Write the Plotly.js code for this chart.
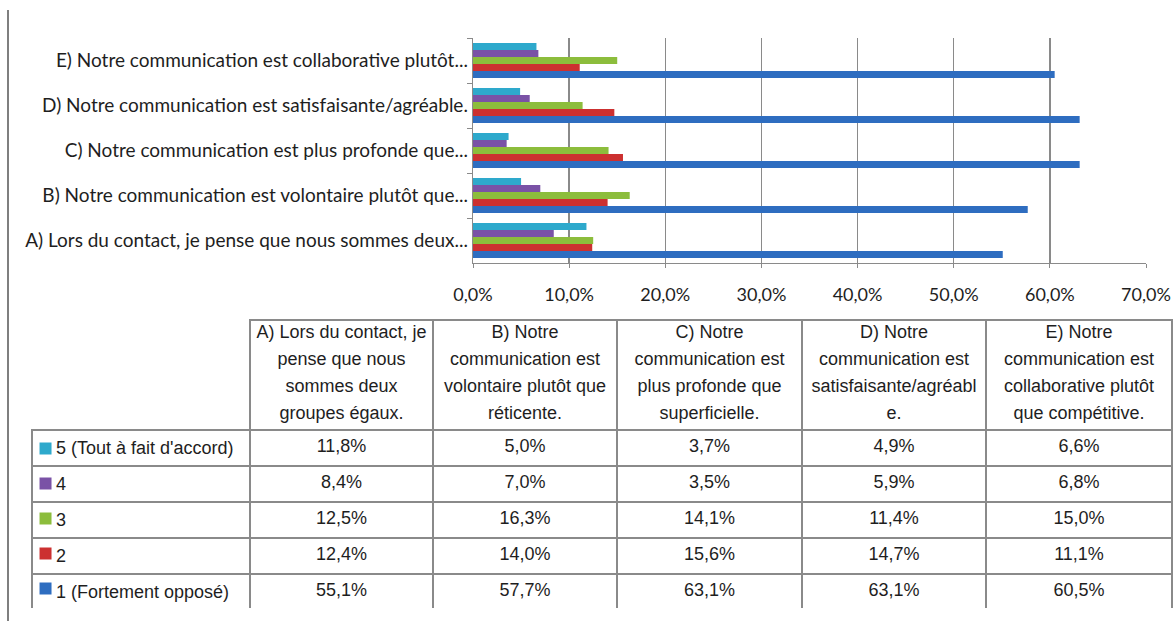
<!DOCTYPE html>
<html><head><meta charset="utf-8">
<script src="https://cdn.plot.ly/plotly-3.0.1.min.js"></script>
<style>html,body{margin:0;padding:0;background:#fff}#chart{width:1173px;height:621px}</style>
</head><body><div id="chart"></div>
<script>
// ---- data ----
const axisLabels = [
  "A) Lors du contact, je pense que nous sommes deux...",
  "B) Notre communication est volontaire plutôt que...",
  "C) Notre communication est plus profonde que...",
  "D) Notre communication est satisfaisante/agréable.",
  "E) Notre communication est collaborative plutôt..."
];
const headerLabels = [
  "A) Lors du contact, je<br>pense que nous<br>sommes deux<br>groupes égaux.",
  "B) Notre<br>communication est<br>volontaire plutôt que<br>réticente.",
  "C) Notre<br>communication est<br>plus profonde que<br>superficielle.",
  "D) Notre<br>communication est<br>satisfaisante/agréabl<br>e.",
  "E) Notre<br>communication est<br>collaborative plutôt<br>que compétitive."
];
const seriesNames = ["1 (Fortement opposé)", "2", "3", "4", "5 (Tout à fait d'accord)"];
const s1 = [55.1, 57.7, 63.1, 63.1, 60.5];
const s2 = [12.4, 14.0, 15.6, 14.7, 11.1];
const s3 = [12.5, 16.3, 14.1, 11.4, 15.0];
const s4 = [8.4, 7.0, 3.5, 5.9, 6.8];
const s5 = [11.8, 5.0, 3.7, 4.9, 6.6];
const seriesColors = ["#2e6dc0", "#cc3030", "#8cbd3c", "#7a52a6", "#2ea9cc"];

// ---- build ----
const series = [s1, s2, s3, s4, s5];
const FONT = "Lato, 'Noto Sans', sans-serif";
const TFONT = "'Liberation Sans', Arial, sans-serif";
const gray = "#8a8a8a";
const txt = "#1e1e1e";
const clear = 'rgba(0,0,0,0)';
const fmt = v => v.toFixed(1).replace('.', ',') + '%';

const traces = series.map((vals, i) => ({
  type: 'bar', orientation: 'h', name: seriesNames[i],
  y: axisLabels, x: vals,
  marker: {color: seriesColors[i]},
  hoverinfo: 'x+y+name'
}));

// table rows in order 5,4,3,2,1 (an invisible square keeps room for the legend key)
const order = [4, 3, 2, 1, 0];
const legendCol = order.map(i => '<span style="color:rgba(0,0,0,0)">■</span> ' + seriesNames[i] + '<br>');
const dataCols = axisLabels.map((_, j) => order.map(i => fmt(series[i][j])));

traces.push({
  type: 'table',
  domain: {x: [32/1173, 1172/1173], y: [0.02, 1 - 320/621]},
  columnwidth: [218, 183, 184, 185, 184, 186],
  header: {
    values: [''].concat(headerLabels),
    height: 110,
    align: 'center',
    fill: {color: clear},
    line: {color: [clear, gray, gray, gray, gray, gray], width: 1.5},
    font: {family: TFONT, size: 18, color: txt}
  },
  cells: {
    values: [legendCol].concat(dataCols),
    height: 35,
    align: ['left', 'center', 'center', 'center', 'center', 'center'],
    fill: {color: clear},
    line: {color: gray, width: 1.5},
    font: {family: TFONT, size: 18, color: txt}
  }
});

// legend keys of the data table (one square per series, on its row)
traces.push({
  type: 'scatter', mode: 'markers', xaxis: 'x2', yaxis: 'y2',
  x: seriesNames.map(() => 0.062), y: seriesNames,
  marker: {symbol: 'square', size: 12, color: seriesColors, line: {width: 0}},
  hoverinfo: 'skip', showlegend: false
});

const layout = {
  width: 1173, height: 621,
  margin: {l: 0, r: 0, t: 0, b: 0},
  paper_bgcolor: 'white', plot_bgcolor: clear,
  separators: ', ',
  showlegend: false,
  barmode: 'group', bargap: 0.22, bargroupgap: 0,
  font: {family: FONT, size: 18, color: txt},
  xaxis: {
    domain: [473/1173, 1146/1173],
    range: [0, 70], dtick: 10, tick0: 0,
    tickformat: '.1f', ticksuffix: '%',
    showgrid: true, gridcolor: gray, gridwidth: 1.3,
    showline: true, linecolor: gray, linewidth: 1.3,
    ticks: 'outside', ticklen: 4, tickcolor: gray,
    zeroline: false, ticklabelstandoff: 11,
    tickfont: {family: FONT, size: 18, color: txt},
    fixedrange: true
  },
  yaxis: {
    domain: [1 - 263/621, 1 - 38/621],
    type: 'category',
    showline: true, linecolor: gray, linewidth: 1.3,
    ticks: 'outside', tickson: 'boundaries', ticklen: 5, tickcolor: gray,
    showgrid: false, automargin: false,
    tickfont: {family: FONT, size: 19, color: txt},
    fixedrange: true
  },
  xaxis2: {
    domain: [32/1173, 250/1173], range: [0, 1], anchor: 'y2',
    visible: false, fixedrange: true
  },
  yaxis2: {
    domain: [1 - 606/621, 1 - 431/621], anchor: 'x2',
    type: 'category', categoryarray: seriesNames, range: [-0.5, 4.5],
    visible: false, fixedrange: true
  },
  shapes: [{
    type: 'line', xref: 'paper', yref: 'paper',
    x0: 8/1173, x1: 8/1173, y0: 0, y1: 1 - 10/621,
    line: {color: '#7f7f7f', width: 2}
  }]
};

Plotly.newPlot('chart', traces, layout, {displayModeBar: false, staticPlot: true}).then(gd => {
  // centre each line of the multi-line header texts (Plotly keeps them left-aligned in a centred block)
  gd.querySelectorAll('.cell-text').forEach(t => {
    const lines = Array.from(t.querySelectorAll('tspan.line')).filter(l => l.textContent.trim() !== '');
    if (lines.length < 3) return;
    const bb = t.getBBox();
    t.setAttribute('text-anchor', 'middle');
    lines.forEach(l => {
      l.setAttribute('x', bb.x + bb.width / 2);
      const v = parseFloat(l.getAttribute('dy') || '0') || 0;
      l.setAttribute('dy', (v / 1.3 * 1.5 - 0.35).toFixed(3) + 'em');
    });
  });
});
</script>
</body></html>
